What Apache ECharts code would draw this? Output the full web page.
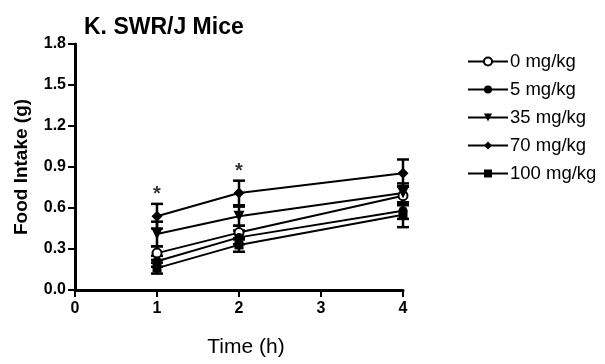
<!DOCTYPE html>
<html>
<head>
<meta charset="utf-8">
<script src="https://cdn.jsdelivr.net/npm/echarts@6/dist/echarts.min.js"></script>
<style>
  html, body { margin: 0; padding: 0; background: #fff; }
  #chart { width: 605px; height: 364px; }
</style>
</head>
<body>
<div id="chart"></div>
<script>
// Food intake over time for each dose group (mean ± SEM)
const timePoints = [1, 2, 4];
const doseNames = ['0 mg/kg', '5 mg/kg', '35 mg/kg', '70 mg/kg', '100 mg/kg'];
const dose0   = [0.27, 0.42, 0.69];
const dose5   = [0.21, 0.385, 0.58];
const dose35  = [0.41, 0.54, 0.71];
const dose70  = [0.54, 0.71, 0.855];
const dose100 = [0.16, 0.33, 0.55];
const err0   = [0.05, 0.05, 0.07];
const err5   = [0.04, 0.05, 0.06];
const err35  = [0.09, 0.07, 0.07];
const err70  = [0.09, 0.09, 0.10];
const err100 = [0.04, 0.05, 0.09];
// significance markers placed above the 70 mg/kg bars
const sigTimes = [1, 2];
const yTicks = ['0.0', '0.3', '0.6', '0.9', '1.2', '1.5', '1.8'];

const FONT = '"Liberation Sans", Arial, sans-serif';
const means = [dose0, dose5, dose35, dose70, dose100];
const errs = [err0, err5, err35, err70, err100];
const symbols = ['emptyCircle', 'circle', 'triangle', 'diamond', 'rect'];
const symbolSizes = [9, 9, 11, 11, 9];

const lineSeries = doseNames.map((name, i) => ({
  name: name,
  type: 'line',
  data: timePoints.map((t, j) => [t, means[i][j]]),
  symbol: symbols[i],
  symbolSize: symbolSizes[i],
  symbolRotate: symbols[i] === 'triangle' ? 180 : 0,
  showAllSymbol: true,
  lineStyle: { color: '#000', width: 2 },
  itemStyle: { color: '#000', borderColor: '#000', borderWidth: symbols[i] === 'emptyCircle' ? 2 : 0 },
  emphasis: { disabled: true },
  z: 3
}));

const errorSeries = doseNames.map((name, i) => ({
  type: 'custom',
  data: timePoints.map((t, j) => [t, means[i][j], errs[i][j]]),
  renderItem: function (params, api) {
    const x = api.value(0), m = api.value(1), e = api.value(2);
    const hi = api.coord([x, m + e]);
    const lo = api.coord([x, m - e]);
    const cap = 6;
    const style = { stroke: '#000', lineWidth: 2.5 };
    return {
      type: 'group',
      children: [
        { type: 'line', shape: { x1: hi[0], y1: hi[1], x2: lo[0], y2: lo[1] }, style: style },
        { type: 'line', shape: { x1: hi[0] - cap, y1: hi[1], x2: hi[0] + cap, y2: hi[1] }, style: style },
        { type: 'line', shape: { x1: lo[0] - cap, y1: lo[1], x2: lo[0] + cap, y2: lo[1] }, style: style }
      ]
    };
  },
  z: 2
}));

const starSeries = {
  type: 'scatter',
  symbolSize: 0,
  data: sigTimes.map(t => {
    const j = timePoints.indexOf(t);
    return [t, dose70[j] + err70[j]];
  }),
  label: {
    show: true, position: 'top', distance: -1,
    formatter: '*', color: '#000', fontSize: 20, fontWeight: 'bold', fontFamily: FONT
  },
  silent: true
};

const chart = echarts.init(document.getElementById('chart'));
chart.setOption({
  animation: false,
  backgroundColor: '#fff',
  title: {
    text: 'K. SWR/J Mice',
    left: 79, top: 11,
    textStyle: { fontFamily: FONT, fontSize: 23, fontWeight: 'bold', color: '#000' }
  },
  grid: { left: 75, right: 202, top: 44, bottom: 74 },
  legend: {
    orient: 'vertical',
    left: 467, top: 52, padding: 0,
    itemWidth: 40, itemHeight: 10, itemGap: 9,
    data: doseNames,
    textStyle: { fontFamily: FONT, fontSize: 18.5, color: '#000', padding: [0, 0, 0, -3] },
    selectedMode: false
  },
  xAxis: {
    type: 'value', min: 0, max: 4, interval: 1,
    name: 'Time (h)', nameLocation: 'middle', nameGap: 47,
    nameTextStyle: { fontFamily: FONT, fontSize: 21, color: '#000', padding: [0, 0, 0, 14] },
    axisLine: { lineStyle: { color: '#000', width: 3 } },
    axisTick: { show: true, length: 7, lineStyle: { color: '#000', width: 2 } },
    axisLabel: { fontFamily: FONT, fontSize: 16, fontWeight: 'bold', color: '#000', margin: 11 },
    splitLine: { show: false }
  },
  yAxis: {
    type: 'value', min: 0, max: 1.8, interval: 0.3,
    name: 'Food Intake (g)', nameLocation: 'middle', nameGap: 44,
    nameTextStyle: { fontFamily: FONT, fontSize: 19, fontWeight: 'bold', color: '#000' },
    axisLine: { show: true, lineStyle: { color: '#000', width: 3 } },
    axisTick: { show: true, length: 7, lineStyle: { color: '#000', width: 2 } },
    axisLabel: {
      fontFamily: FONT, fontSize: 16, fontWeight: 'bold', color: '#000', margin: 9,
      formatter: (v) => yTicks[Math.round(v / 0.3)]
    },
    splitLine: { show: false }
  },
  series: [...errorSeries, ...lineSeries, starSeries]
});
</script>
</body>
</html>
